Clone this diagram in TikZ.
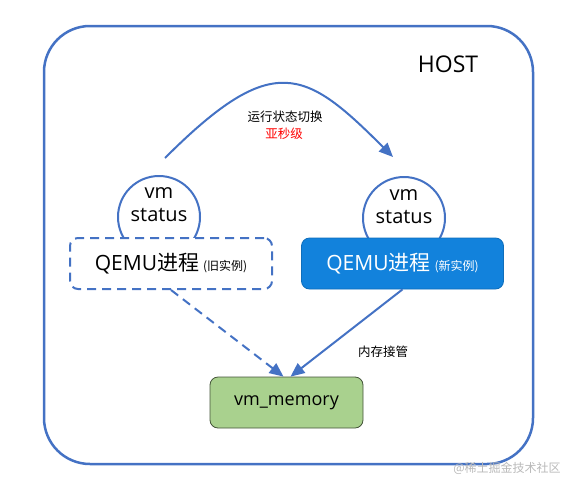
\documentclass[tikz,border=0pt]{standalone}
\usepackage{fontspec}
\setmainfont{Open Sans}
\newfontfamily\cjk{Noto Sans CJK SC}
\usetikzlibrary{arrows.meta,positioning}
\definecolor{hostblue}{HTML}{4472C4}
\definecolor{newblue}{HTML}{1282DC}
\definecolor{memgreen}{HTML}{A9D18E}
\tikzset{
  vmstat/.style={circle,draw=hostblue,line width=2pt,minimum size=82pt,inner sep=0pt},
  stattext/.style={align=center,font=\fontsize{20}{23}\selectfont},
  qemubox/.style={rounded corners=8pt,minimum width=202pt,minimum height=51pt,inner sep=0pt,font=\fontsize{21}{24}\selectfont},
  arr/.style={hostblue,line width=2pt,-{Triangle[length=14pt,width=12pt]}},
  small/.style={font=\cjk\fontsize{12.5}{15}\selectfont}
}
\newcommand{\tagtext}[1]{{\cjk\fontsize{12}{14}\selectfont (#1)}}

\begin{document}
\begin{tikzpicture}[x=1pt,y=-1pt]
\useasboundingbox (0,0) rectangle (575,490);
\draw[hostblue,line width=2.5pt,rounded corners=46pt](44,26) rectangle (533,464);
\node[font=\fontsize{23}{26}\selectfont] (host) at (448,64) {HOST};
% vm status circles, partly hidden by the boxes
\node[vmstat] (oldst) at (159,217) {};
\node[vmstat] (newst) at (404,218) {};
\node[stattext] (oldtxt) at (159,205) {vm\\status};
\node[stattext] (newtxt) at (404,207) {vm\\status};
\node[qemubox,draw=hostblue,line width=2pt,dash pattern=on 9pt off 6pt,fill=white] (oldq) at (171,263.5) {QEMU{\cjk 进程}\hspace{4pt}\tagtext{旧实例}};
\node[qemubox,draw=newblue!85!black,line width=0.8pt,fill=newblue,text=white] (newq) at (402.5,263.5) {QEMU{\cjk 进程}\hspace{4pt}\tagtext{新实例}};
\node[qemubox,minimum width=153pt,draw=memgreen!40!black,line width=0.8pt,fill=memgreen,font=\fontsize{18}{21}\selectfont] (mem) at (286.5,402.5) {vm\_memory};
% state switch
\coordinate (cs) at (165,158);
\coordinate (ce) at (393,157);
\draw[arr] (cs) .. controls (273.5,49.5) and (305.5,69.5) .. (ce);
\node[small] (swlbl) at (285,117) {运行状态切换};
\node[small,text=red] (sublbl) at (284,134) {亚秒级};
% memory
\draw[arr,dash pattern=on 9pt off 6pt] (oldq.south) -- ([xshift=-3pt]mem.north);
\draw[arr] (newq.south) -- ([xshift=4pt]mem.north);
\node[small] (memlbl) at (383,352) {内存接管};
\node[font=\cjk\fontsize{12}{14}\selectfont,text=gray!55] (mark) at (507,468) {@稀土掘金技术社区};
\end{tikzpicture}
\end{document}
